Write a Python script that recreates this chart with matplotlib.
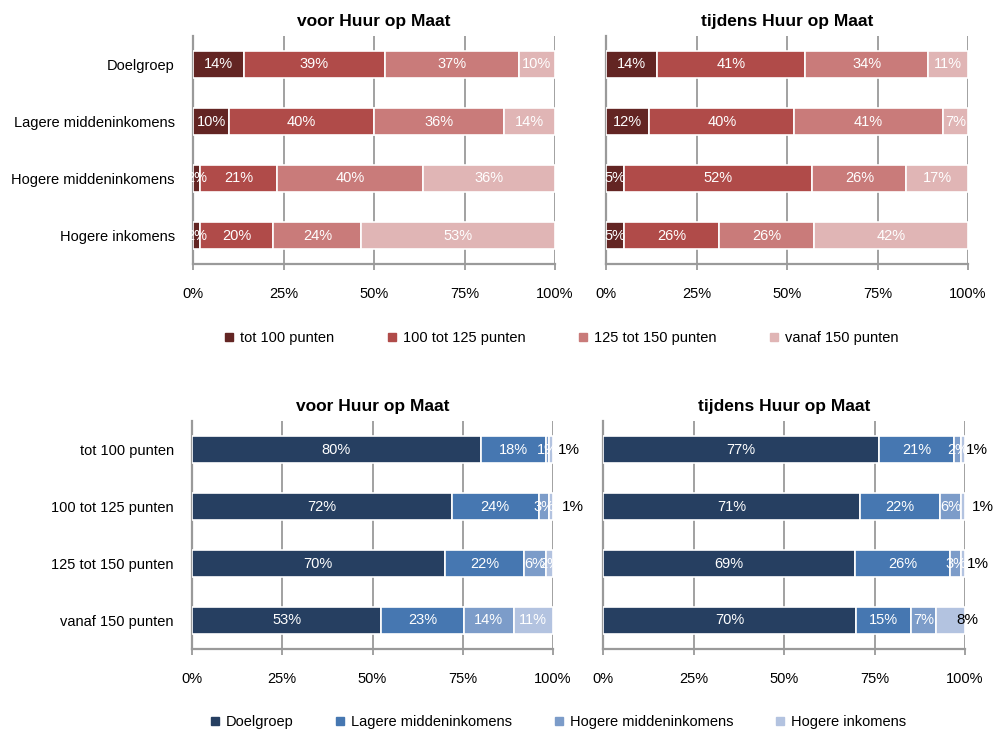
import matplotlib
matplotlib.use("Agg")
import matplotlib.pyplot as plt
from matplotlib.lines import Line2D
import numpy as np

plt.rcParams['font.family'] = ['Liberation Sans', 'DejaVu Sans']

# ---------------- data ----------------
top_categories = ['Doelgroep', 'Lagere middeninkomens', 'Hogere middeninkomens', 'Hogere inkomens']
top_series = ['tot 100 punten', '100 tot 125 punten', '125 tot 150 punten', 'vanaf 150 punten']
top_voor_tot100 = [14, 10, 2, 2]
top_voor_100_125 = [39, 40, 21, 20]
top_voor_125_150 = [37, 36, 40, 24]
top_voor_vanaf150 = [10, 14, 36, 53]
top_tijdens_tot100 = [14, 12, 5, 5]
top_tijdens_100_125 = [41, 40, 52, 26]
top_tijdens_125_150 = [34, 41, 26, 26]
top_tijdens_vanaf150 = [11, 7, 17, 42]

bot_categories = ['tot 100 punten', '100 tot 125 punten', '125 tot 150 punten', 'vanaf 150 punten']
bot_series = ['Doelgroep', 'Lagere middeninkomens', 'Hogere middeninkomens', 'Hogere inkomens']
bot_voor_doel = [80, 72, 70, 53]
bot_voor_lager = [18, 24, 22, 23]
bot_voor_hogmid = [1, 3, 6, 14]
bot_voor_hogink = [1, 1, 2, 11]
bot_tijdens_doel = [77, 71, 69, 70]
bot_tijdens_lager = [21, 22, 26, 15]
bot_tijdens_hogmid = [2, 6, 3, 7]
bot_tijdens_hogink = [1, 1, 1, 8]

panel_titles = ['voor Huur op Maat', 'tijdens Huur op Maat']
xtick_labels = ['0%', '25%', '50%', '75%', '100%']

# ---------------- style ----------------
red_colors = ['#632523', '#B04B49', '#C97B7A', '#E0B5B5']
blue_colors = ['#263F61', '#4677B1', '#7C9CC9', '#B3C3E0']
grid_col = '#9A9A9A'
FS = 10.5

# labels drawn in black outside the bar: (panel key, row, series index) -> x position
outside_labels = {
    ('bv', 0, 3): 104.3, ('bv', 1, 3): 105.5,
    ('bt', 0, 3): 103.4, ('bt', 1, 3): 105.0, ('bt', 2, 3): 103.6, ('bt', 3, 3): 100.6,
}

W, H = 996, 733
fig = plt.figure(figsize=(W / 100, H / 100), dpi=100)

def ax_at(x0, x1, ytop, ybot):
    return fig.add_axes([x0 / W, 1 - ybot / H, (x1 - x0) / W, (ybot - ytop) / H])

axes = {
    'tv': ax_at(193, 555, 36, 264),
    'tt': ax_at(606, 968, 36, 264),
    'bv': ax_at(192, 553, 421, 649),
    'bt': ax_at(603, 965, 421, 649),
}

panels = {
    'tv': (top_categories, [top_voor_tot100, top_voor_100_125, top_voor_125_150, top_voor_vanaf150], red_colors, panel_titles[0], True),
    'tt': (top_categories, [top_tijdens_tot100, top_tijdens_100_125, top_tijdens_125_150, top_tijdens_vanaf150], red_colors, panel_titles[1], False),
    'bv': (bot_categories, [bot_voor_doel, bot_voor_lager, bot_voor_hogmid, bot_voor_hogink], blue_colors, panel_titles[0], True),
    'bt': (bot_categories, [bot_tijdens_doel, bot_tijdens_lager, bot_tijdens_hogmid, bot_tijdens_hogink], blue_colors, panel_titles[1], False),
}

for key, (cats, series, colors, title, show_y) in panels.items():
    ax = axes[key]
    data = np.array(series, dtype=float)  # shape (nseries, ncat)
    totals = data.sum(axis=0)
    widths = data / totals * 100.0
    y = np.arange(len(cats))
    left = np.zeros(len(cats))
    for si in range(data.shape[0]):
        ax.barh(y, widths[si], left=left, height=0.48, color=colors[si],
                edgecolor='white', linewidth=1.2, zorder=3)
        for ri in range(len(cats)):
            val = int(data[si, ri])
            k = (key, ri, si)
            if k in outside_labels:
                ax.text(outside_labels[k], y[ri], f'{val}%', ha='center', va='center',
                        color='black', fontsize=FS + 0.5, zorder=5, clip_on=False)
            else:
                ax.text(left[ri] + widths[si, ri] / 2, y[ri], f'{val}%', ha='center', va='center',
                        color='white', fontsize=FS, zorder=5, clip_on=False)
        left = left + widths[si]

    ax.set_xlim(0, 100)
    ax.set_ylim(len(cats) - 0.5, -0.5)
    ax.set_xticks([0, 25, 50, 75, 100])
    ax.set_xticklabels(xtick_labels, fontsize=FS)
    ax.set_yticks(y)
    if show_y:
        ax.set_yticklabels(cats, fontsize=FS)
    else:
        ax.set_yticklabels([])
    ax.tick_params(axis='y', length=0, pad=13)
    ax.tick_params(axis='x', length=4.5, width=1.3, color=grid_col, pad=12)
    ax.xaxis.grid(True, color=grid_col, linewidth=1.3, zorder=0)
    ax.set_axisbelow(True)
    for s in ['top', 'right']:
        ax.spines[s].set_visible(False)
    for s in ['left', 'bottom']:
        ax.spines[s].set_color(grid_col)
        ax.spines[s].set_linewidth(1.6)
    ax.set_title(title, fontsize=12.5, fontweight='bold', pad=7)

def make_legend(labels, colors, xc, yc, gap):
    handles = [Line2D([0], [0], marker='s', linestyle='none', markersize=6,
                      markerfacecolor=c, markeredgecolor=c) for c in colors]
    fig.legend(handles, labels, loc='center', bbox_to_anchor=(xc / W, 1 - yc / H),
               ncol=4, frameon=False, fontsize=FS, handlelength=0.7,
               handletextpad=0.4, columnspacing=gap)

make_legend(top_series, red_colors, 561, 338, 3.6)
make_legend(bot_series, blue_colors, 558, 722, 2.85)

fig.savefig('out.png', dpi=100)
